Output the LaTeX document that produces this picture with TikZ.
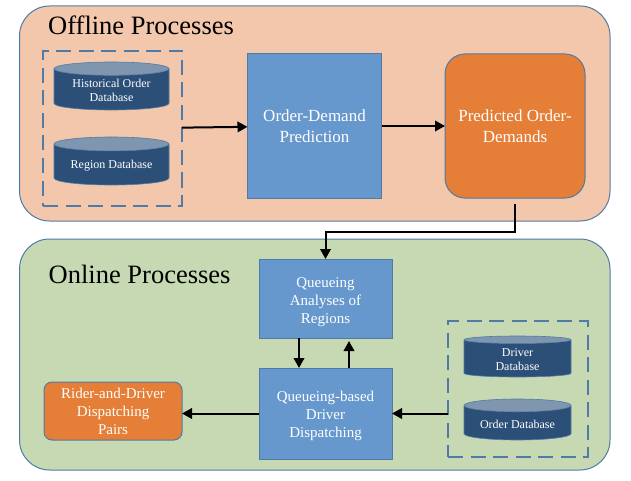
\documentclass[tikz,border=0pt]{standalone}
\usepackage{fontspec}
\setmainfont{Liberation Serif}
\usetikzlibrary{positioning}
\usetikzlibrary{arrows.meta}
\usetikzlibrary{shapes.geometric}
\definecolor{offlinefill}{HTML}{F2C7AB}
\definecolor{onlinefill}{HTML}{C6D9B3}
\definecolor{edgeblue}{HTML}{4F7BA6}
\definecolor{boxblue}{HTML}{6698CD}
\definecolor{dbbody}{HTML}{2C4F78}
\definecolor{dbtop}{HTML}{8095AE}
\definecolor{boxorange}{HTML}{E57E36}
\begin{document}
\begin{tikzpicture}[x=1pt,y=-1pt,
  panel/.style={draw=edgeblue, line width=1pt, rounded corners=30pt, inner sep=0pt, outer sep=0pt},
  dashbox/.style={draw=edgeblue, line width=1.5pt, dash pattern=on 15pt off 7.5pt, inner sep=0pt, outer sep=0pt},
  block/.style={draw=edgeblue, line width=1pt, fill=boxblue, text=white, align=center, inner sep=0pt, outer sep=0pt, font=\fontsize{15}{18}\selectfont},
  bigblock/.style={block, font=\fontsize{17}{20.5}\selectfont},
  result/.style={fill=boxorange},
  database/.style={cylinder, shape border rotate=90, aspect=0.17, cylinder uses custom fill, cylinder body fill=dbbody, cylinder end fill=dbtop, draw=edgeblue, line width=0.6pt, text=white, align=center, inner sep=0pt, outer sep=0pt, font=\fontsize{12}{14}\selectfont},
  heading/.style={anchor=base west, inner sep=0pt, font=\fontsize{26.5}{30}\selectfont},
  arrow/.style={-{Triangle[length=10pt,width=10.5pt]}, line width=2pt, black}]
	\useasboundingbox (0,0) rectangle (631,481);
	% Panels
	\node[panel, fill=offlinefill, minimum width=590.5pt, minimum height=215pt, anchor=north west] (offline) at (19.5,6) {};
	\node[panel, fill=onlinefill, minimum width=590.5pt, minimum height=231pt, anchor=north west] (online) at (19.5,239) {};
	\node[heading] (offlinetitle) at (48,35) {Offline Processes};
	\node[heading] (onlinetitle) at (48.5,283) {Online Processes};
	% Offline nodes
	\node[dashbox, minimum width=139pt, minimum height=155pt, anchor=north west] (offstore) at (43,51) {};
	\node[database, minimum width=115pt, minimum height=48pt, anchor=shape center] (history) at (111.5,86) {\\[-4pt]Historical Order\\Database};
	\node[database, minimum width=115pt, minimum height=48pt, below=27pt of history] (region) {\\[-3pt]Region Database};
	\node[bigblock, minimum width=134pt, minimum height=144pt, right=65.5pt of offstore, yshift=2.5pt] (predict) {Order-Demand\\Prediction};
	\node[bigblock, result, rounded corners=20pt, minimum width=140pt, minimum height=144pt, right=63.5pt of predict] (demands) {Predicted Order-\\Demands};
	% Online nodes
	\node[block, minimum width=133pt, minimum height=79pt, anchor=north west] (queue) at (259,259) {\\[-1.5pt]Queueing\\Analyses of\\Regions};
	\node[block, minimum width=133pt, minimum height=91pt, below=30pt of queue] (dispatch) {\\[-3.5pt]Queueing-based\\Driver\\Dispatching};
	\node[dashbox, minimum width=140pt, minimum height=136pt, anchor=north west] (onstore) at (448,321) {};
	\node[database, minimum width=107pt, minimum height=41pt, anchor=shape center] (driver) at (517.5,356.5) {\\[-3pt]Driver\\Database};
	\node[database, minimum width=107pt, minimum height=41pt, below=22pt of driver] (orderdb) {\\[-3pt]Order Database};
	\node[block, result, rounded corners=8pt, minimum width=138pt, minimum height=58pt, anchor=east] (pairs) at (182,411) {Rider-and-Driver\\Dispatching\\Pairs};
	% Arrows
	\draw[arrow] (offstore) -- (predict);
	\draw[arrow] (predict) -- (demands);
	\draw[arrow, shorten <=6pt] (demands.south) -- ++(0,34) -| (queue.north);
	\draw[arrow] ([xshift=-26.5pt]queue.south) -- ([xshift=-26.5pt]dispatch.north);
	\draw[arrow, shorten >=3pt] ([xshift=23.5pt]dispatch.north) -- ([xshift=23.5pt]queue.south);
	\draw[arrow] (onstore.west |- dispatch.east) -- (dispatch.east);
	\draw[arrow] (dispatch.west) -- (pairs.east |- dispatch.west);
\end{tikzpicture}
\end{document}
